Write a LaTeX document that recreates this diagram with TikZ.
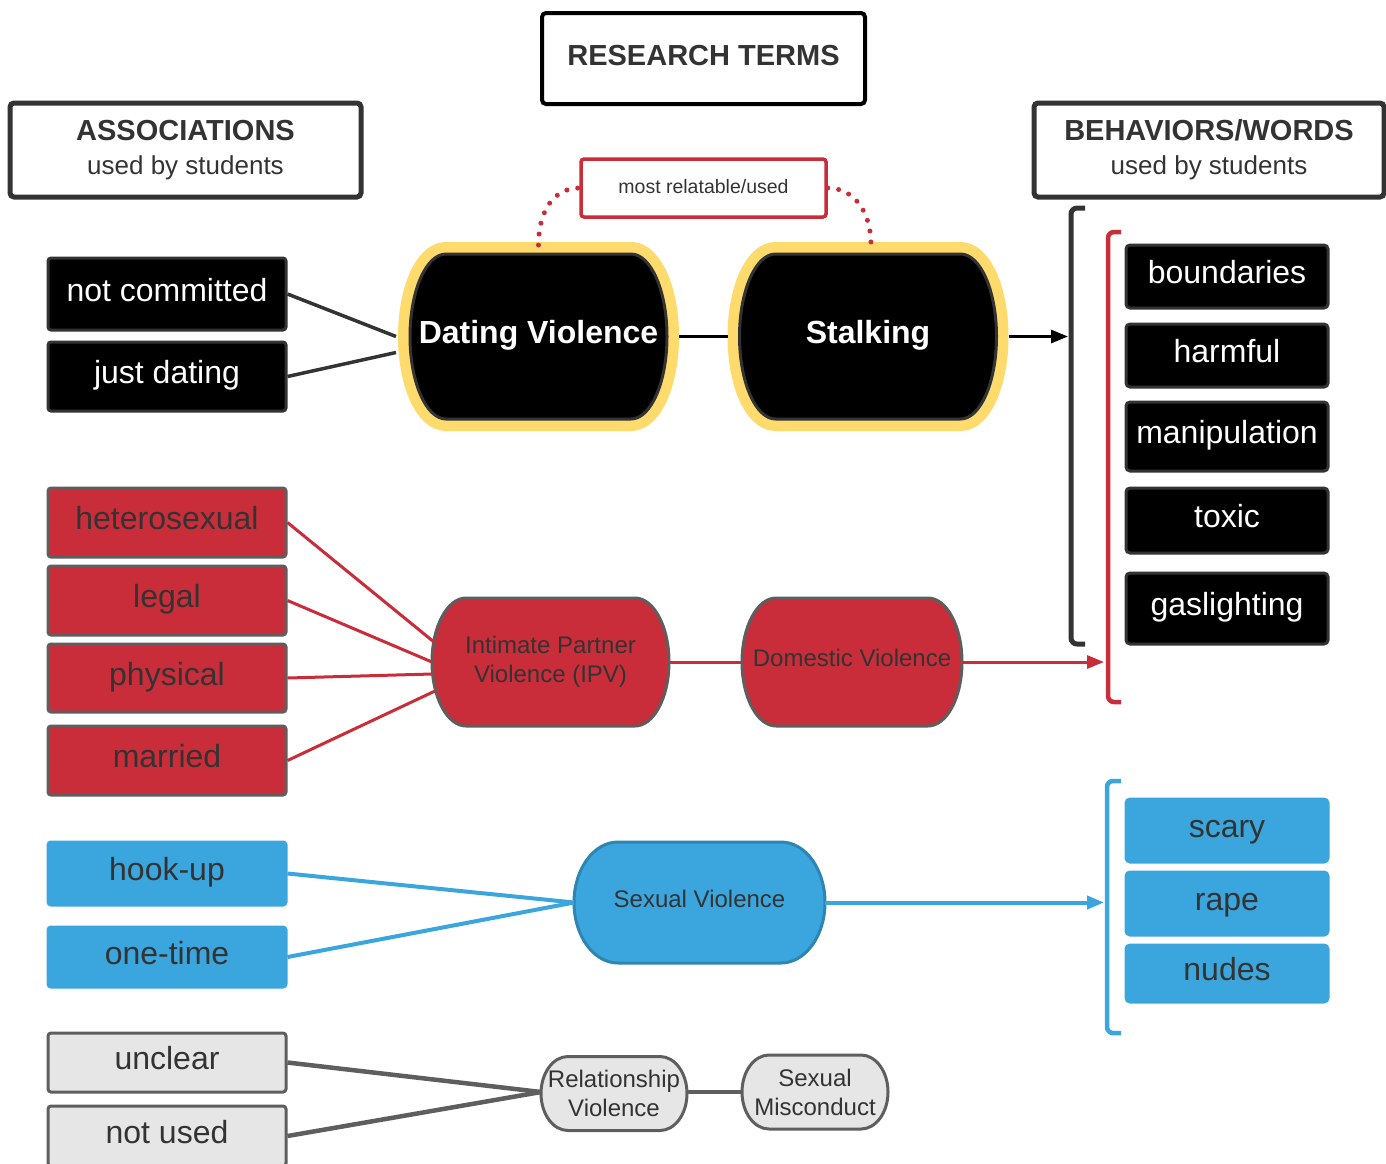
\documentclass[tikz,border=0pt]{standalone}
\usepackage{fontspec}
\setmainfont{Liberation Sans}
\usetikzlibrary{calc, backgrounds, arrows.meta}
\definecolor{tred}{HTML}{C92D39}
\definecolor{tblue}{HTML}{3AA6DD}
\definecolor{tyellow}{HTML}{FFDB6E}
\definecolor{tgray}{HTML}{E6E6E6}
\definecolor{dark}{HTML}{333333}
\definecolor{midgray}{HTML}{5E5E5E}
\tikzstyle{heading} = [rectangle, rounded corners=4, line width=5, draw=dark, text=dark, align=center, font=\fontsize{26}{34}\selectfont]
\tikzstyle{assoc} = [rectangle, text height=24, text depth=10, rounded corners=3, minimum width=238, line width=3, font=\fontsize{32}{38}\selectfont]
\tikzstyle{word} = [rectangle, text height=24, text depth=10, rounded corners=4, minimum width=202, line width=3, font=\fontsize{32}{38}\selectfont]
\tikzstyle{blackbox} = [fill=black, draw=dark, text=white]
\tikzstyle{redbox} = [fill=tred, draw=midgray, text=dark]
\tikzstyle{bluebox} = [fill=tblue, draw=tblue, text=dark]
\tikzstyle{graybox} = [fill=tgray, draw=midgray, text=dark]
\tikzstyle{term} = [rectangle, outer sep=0, align=center, text=dark, font=\fontsize{24}{29}\selectfont]
\tikzstyle{smallterm} = [term, text height=18, text depth=8.5]
\tikzstyle{keyterm} = [term, text height=24, text depth=10, text=white, font=\bfseries\fontsize{32}{38}\selectfont, minimum width=257, minimum height=165]
\tikzstyle{arrow} = [-{Triangle[length=17pt,width=13pt]}]
% capsule outline round a term node: node name, side bulge
\newcommand{\capsule}[2]{([xshift=#2pt]#1.north west) -- ([xshift=-#2pt]#1.north east) let \p1=(#1.north), \p2=(#1.south) in arc[start angle=90, end angle=-90, x radius=#2pt, y radius={(\y1-\y2)/2}] -- ([xshift=#2pt]#1.south west) arc[start angle=270, end angle=90, x radius=#2pt, y radius={(\y1-\y2)/2}] -- cycle}

\begin{document}
\begin{tikzpicture}[x=1pt, y=-1pt]
\useasboundingbox (0,0) rectangle (1386,1163);

% headings
\node (research) [heading, text height=21, text depth=7, draw=black, line width=4, minimum width=323, minimum height=91, font=\bfseries\fontsize{29}{35}\selectfont] at (703.5,58.5) {RESEARCH TERMS};
\node (assocs) [heading, minimum width=351, minimum height=94] at (185.5,150) {{\bfseries\fontsize{29}{34}\selectfont ASSOCIATIONS}\\used by students};
\node (behav) [heading, minimum width=350, minimum height=94] at (1209,150) {{\bfseries\fontsize{29}{34}\selectfont BEHAVIORS/WORDS}\\used by students};
\node (mru) [rectangle, text height=14, text depth=4, rounded corners=3, draw=tred, line width=3.5, minimum width=245, minimum height=58, text=dark, font=\fontsize{19.5}{23}\selectfont] at (703.5,188) {most relatable/used};

% research terms
\node (dv) [keyterm] at (538.5,336.5) {Dating Violence};
\node (st) [keyterm] at (868,336.5) {Stalking};
\node (ipv) [term, minimum width=237, minimum height=128] at (550.5,662) {Intimate Partner\\Violence (IPV)};
\node (dom) [smallterm, minimum width=220, minimum height=128] at (852,662) {Domestic Violence};
\node (sv) [smallterm, minimum width=251, minimum height=121] at (699.5,902.5) {Sexual Violence};
\node (rv) [term, minimum width=146, minimum height=74] at (614,1093.5) {Relationship\\Violence};
\node (sm) [term, minimum width=146, minimum height=74] at (815,1092) {Sexual\\Misconduct};

\begin{scope}[on background layer]
\draw [tyellow, line width=24] \capsule{dv}{36};
\draw [fill=black, draw=dark, line width=3] \capsule{dv}{36};
\draw [tyellow, line width=24] \capsule{st}{36};
\draw [fill=black, draw=dark, line width=3] \capsule{st}{36};
\draw [fill=tred, draw=midgray, line width=3] \capsule{ipv}{34};
\draw [fill=tred, draw=midgray, line width=3] \capsule{dom}{34};
\draw [fill=tblue, draw=tblue!80!black, line width=3] \capsule{sv}{44};
\draw [fill=tgray, draw=midgray, line width=3] \capsule{rv}{27};
\draw [fill=tgray, draw=midgray, line width=3] \capsule{sm}{27};
\end{scope}

% associations
\node (nc) [assoc, blackbox, minimum height=72] at (167,294) {not committed};
\node (jd) [assoc, blackbox, minimum height=69] at (167,376.5) {just dating};
\node (het) [assoc, redbox, minimum height=69] at (167,522.5) {heterosexual};
\node (legal) [assoc, redbox, minimum height=69] at (167,600.5) {legal};
\node (phys) [assoc, redbox, minimum height=68] at (167,678) {physical};
\node (married) [assoc, redbox, minimum height=69] at (167,760.5) {married};
\node (hook) [assoc, bluebox, minimum height=63] at (167,873.5) {hook-up};
\node (onetime) [assoc, bluebox, minimum height=60] at (167,957) {one-time};
\node (unclear) [assoc, graybox, minimum height=59] at (167,1062.5) {unclear};
\node (notused) [assoc, graybox, minimum height=60] at (167,1136) {not used};

% behaviors/words
\node (bound) [word, blackbox, minimum height=63] at (1227,276.5) {boundaries};
\node (harm) [word, blackbox, minimum height=63] at (1227,355.5) {harmful};
\node (manip) [word, blackbox, minimum height=69] at (1227,436.5) {manipulation};
\node (toxic) [word, blackbox, minimum height=65] at (1227,520.5) {toxic};
\node (gas) [word, blackbox, minimum height=71] at (1227,608.5) {gaslighting};
\node (scary) [word, bluebox, minimum height=63] at (1227,830.5) {scary};
\node (rape) [word, bluebox, minimum height=63] at (1227,903.5) {rape};
\node (nudes) [word, bluebox, minimum height=57] at (1227,973.5) {nudes};

% brackets
\draw [line width=5, dark, rounded corners=6] (1085,208) -- (1071,208) -- (1071,644) -- (1085,644);
\draw [line width=4.5, tred, rounded corners=6] (1121,232) -- (1108,232) -- (1108,702) -- (1121,702);
\draw [line width=4.5, tblue, rounded corners=6] (1121,781) -- (1107,781) -- (1107,1033) -- (1121,1033);
\coordinate (brk1) at (1068,336.5);
\coordinate (brk2) at (1104,662);
\coordinate (brk3) at (1104,902.5);

% connectors
\draw [line width=3.5, dark] (nc.east) -- ([xshift=-14]dv.west);
\draw [line width=3.5, dark] (jd.east) -- ([xshift=-14,yshift=-16]dv.west);
\draw [line width=3, tred] (het.east) -- ([xshift=2,yshift=20]ipv.west);
\draw [line width=3, tred] (legal.east) -- (ipv.west);
\draw [line width=3, tred] (phys.east) -- ([yshift=-12]ipv.west);
\draw [line width=3, tred] (married.east) -- ([xshift=3,yshift=-29]ipv.west);
\draw [line width=4, tblue] (hook.east) -- (sv.west);
\draw [line width=4, tblue] (onetime.east) -- (sv.west);
\draw [line width=4.5, midgray] (unclear.east) -- ([yshift=1.5]rv.west);
\draw [line width=4.5, midgray] (notused.east) -- ([yshift=1.5]rv.west);

\draw [line width=3, black] ([xshift=12]dv.east) -- ([xshift=-12]st.west);
\draw [line width=3, tred] (ipv.east) -- (dom.west);
\draw [line width=4.5, midgray] ([yshift=1.5]rv.east) -- (sm.west);
\draw [arrow, line width=3, black] ([xshift=12]st.east) -- (brk1);
\draw [arrow, line width=3, tred] (dom.east) -- (brk2);
\draw [arrow, line width=4, tblue] (sv.east) -- (brk3);

% most relatable
\draw [tred, line width=5, line cap=round, dash pattern=on 0pt off 11pt] ([yshift=9]dv.north) .. controls +(0,-35) and +(-25,0) .. (mru.west);
\draw [tred, line width=5, line cap=round, dash pattern=on 0pt off 11pt] (mru.east) .. controls +(25,0) and +(0,-35) .. ([xshift=3,yshift=9]st.north);
\end{tikzpicture}
\end{document}
